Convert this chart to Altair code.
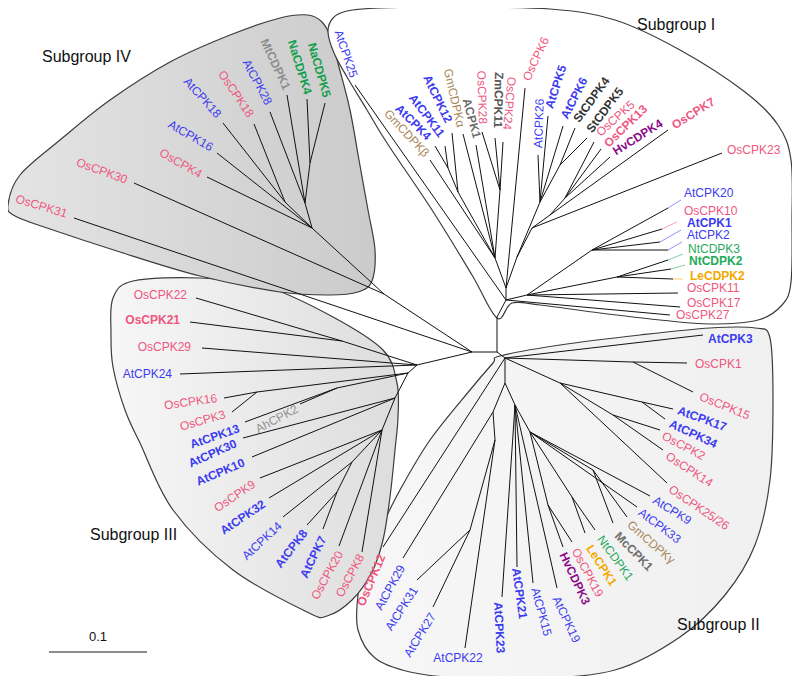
import altair as alt
import pandas as pd

# ---------------- tree data (reference pixel coordinates) ----------------
node_names = ["R0", "R1", "S0", "S1", "R2",
              "N4a", "N4b", "N4c", "N4d", "N4e",
              "N3", "N3a", "N3b", "N3c", "N3d", "N3e", "N3g", "N3h", "N3i",
              "N2a", "N2b", "N2c", "N213", "N25", "N26", "N27", "N28", "N29", "N21", "N22", "N23", "N24",
              "S1U", "GL", "Na", "Na1", "Nz", "S1Um", "Nm", "Nst", "Nj", "Nh", "Nh1", "S1R", "NR1", "NR2"]
node_x = [497, 472, 497, 506, 505,
          384, 312, 285, 305, 310,
          417, 342, 408, 257, 337, 395, 382, 352, 337,
          505, 493, 495, 470, 515, 530, 548, 572, 593, 633, 560, 642, 613,
          506, 495, 458, 448, 500, 517, 540, 560, 532, 550, 565, 527, 592, 617]
node_y = [352, 352, 317, 300, 358,
          294, 228, 202, 203, 163,
          365, 341, 373, 392, 388, 398, 430, 462, 492,
          383, 412, 440, 530, 405, 432, 505, 497, 470, 362, 383, 402, 415,
          288, 258, 192, 168, 190, 257, 202, 165, 228, 215, 198, 295, 250, 277]
node_parent = ["", "R0", "R0", "S0", "R0",
               "R1", "N4a", "N4b", "N4b", "N4d",
               "R1", "N3", "N3", "N3b", "N3b", "N3b", "N3e", "N3g", "N3h",
               "R2", "N2a", "N2b", "N2c", "N2a", "N25", "N26", "N26", "N26", "R2", "R2", "N22", "N22",
               "S1", "S1U", "GL", "Na", "GL", "S1U", "S1Um", "Nm", "S1Um", "Nj", "Nh", "S1", "S1R", "S1R"]

leaf_names = ["OsCPK31", "OsCPK30", "OsCPK4", "AtCPK16", "AtCPK18", "OsCPK18", "AtCPK28", "MtCDPK1", "NaCDPK4", "NaCDPK5",
              "AtCPK25", "GmCDPKβ", "AtCPK4", "AtCPK11", "AtCPK12", "GmCDPKα", "ACPK1", "OsCPK28", "ZmCPK11", "OsCPK24",
              "OsCPK6", "AtCPK26", "AtCPK5", "AtCPK6", "StCDPK4", "StCDPK5", "OsCPK5", "OsCPK13", "HvCDPK4", "OsCPK7", "OsCPK23",
              "AtCPK20", "OsCPK10", "AtCPK1", "AtCPK2", "NtCDPK3", "NtCDPK2", "LeCDPK2", "OsCPK11", "OsCPK17", "OsCPK27",
              "OsCPK22", "OsCPK21", "OsCPK29", "AtCPK24", "OsCPK16", "OsCPK3", "AtCPK13", "AhCPK2", "AtCPK30", "AtCPK10",
              "OsCPK9", "AtCPK32", "AtCPK14", "AtCPK8", "AtCPK7", "OsCPK20", "OsCPK8",
              "OsCPK12", "AtCPK29", "AtCPK31", "AtCPK27", "AtCPK22", "AtCPK23", "AtCPK21", "AtCPK15", "AtCPK19",
              "HvCDPK3", "OsCPK19", "LeCPK1", "NtCDPK1", "McCPK1", "GmCDPKγ", "AtCPK33", "AtCPK9",
              "OsCPK25/26", "OsCPK14", "OsCPK2", "AtCPK34", "AtCPK17", "OsCPK15", "OsCPK1", "AtCPK3"]
leaf_x = [74, 134, 207, 217, 223, 254, 270, 287, 307, 325,
          355, 430, 435, 445, 452, 463, 476, 482, 495, 503,
          525, 538, 548, 563, 575, 587, 594, 601, 610, 668, 722,
          681, 677, 681, 682, 683, 685, 683, 678, 680, 670,
          196, 190, 202, 180, 224, 232, 245, 300, 243, 252,
          260, 269, 283, 307, 323, 339, 362,
          383, 403, 417, 433, 465, 502, 517, 533, 557,
          563, 572, 585, 595, 613, 627, 637, 650,
          667, 663, 660, 665, 673, 693, 687, 703]
leaf_y = [218, 183, 177, 153, 123, 124, 112, 95, 99, 103,
          85, 160, 146, 146, 133, 134, 145, 132, 138, 142,
          88, 155, 116, 126, 128, 138, 142, 149, 157, 130, 153,
          200, 222, 230, 242, 254, 265, 279, 293, 307, 315,
          298, 322, 348, 374, 398, 412, 422, 404, 438, 457,
          478, 498, 517, 525, 529, 546, 552,
          547, 558, 580, 607, 648, 597, 567, 583, 588,
          547, 542, 533, 530, 523, 517, 507, 496,
          483, 450, 430, 419, 409, 392, 363, 335]
leaf_parent = ["R1", "N4a", "N4b", "N4b", "N4c", "N4c", "N4d", "N4d", "N4e", "N4e",
               "S1", "GL", "Na1", "Na1", "Na", "GL", "GL", "Nz", "Nz", "Nz",
               "S1U", "Nm", "Nm", "Nm", "Nst", "Nst", "Nh1", "Nh1", "Nh1", "Nh", "Nj",
               "NR1", "NR1", "NR1", "NR1", "NR2", "NR2", "NR2", "S1R", "S1R", "S1",
               "N3a", "N3a", "N3", "N3", "N3c", "N3c", "N3d", "N3d", "N3e", "N3e",
               "N3g", "N3g", "N3h", "N3i", "N3i", "N3g", "N3g",
               "R2", "N2b", "N213", "N213", "N2c", "N25", "N25", "N25", "N25",
               "N27", "N27", "N28", "N28", "N29", "N29", "N26", "N26",
               "N22", "N24", "N24", "N23", "N23", "N21", "N21", "R2"]
leaf_species = ["Os", "Os", "Os", "At", "At", "Os", "At", "Mt", "Na", "Na",
                "At", "Gm", "At", "At", "At", "Gm", "AC", "Os", "Zm", "Os",
                "Os", "At", "At", "At", "St", "St", "Os", "Os", "Hv", "Os", "Os",
                "At", "Os", "At", "At", "Nt", "Nt", "Le", "Os", "Os", "Os",
                "Os", "Os", "Os", "At", "Os", "Os", "At", "Ah", "At", "At",
                "Os", "At", "At", "At", "At", "Os", "Os",
                "Os", "At", "At", "At", "At", "At", "At", "At", "At",
                "Hv", "Os", "Le", "Nt", "Mc", "Gm", "At", "At",
                "Os", "Os", "Os", "At", "At", "Os", "Os", "At"]
leaf_bold = [0, 0, 0, 0, 0, 0, 0, 1, 1, 1,
             0, 0, 1, 1, 1, 0, 1, 0, 1, 0,
             0, 0, 1, 1, 1, 1, 0, 1, 1, 1, 0,
             0, 0, 1, 0, 0, 1, 1, 0, 0, 0,
             0, 1, 0, 0, 0, 0, 1, 0, 1, 1,
             0, 1, 0, 1, 1, 0, 0,
             1, 0, 0, 0, 0, 1, 1, 0, 0,
             1, 0, 1, 0, 1, 0, 0, 0,
             0, 0, 0, 1, 1, 0, 0, 1]
label_x = [67, 127, 201, 212, 219, 251, 269, 287, 308, 327,
           354, 427, 429, 442, 449, 461, 477, 483, 498, 507,
           526, 538, 549, 564, 576, 589, 598, 606, 614, 673, 727,
           684, 684, 687, 687, 688, 689, 690, 687, 687, 676,
           187, 180, 191, 172, 217, 225, 239, 297, 236, 244,
           254, 264, 280, 305, 323, 340, 361,
           382, 402, 415, 433, 458, 498, 516, 535, 556,
           563, 575, 589, 600, 617, 629, 640, 654,
           670, 667, 663, 670, 678, 700, 695, 708]
label_y = [214, 180, 175, 148, 116, 116, 104, 89, 94, 97,
           77, 155, 138, 136, 122, 127, 138, 124, 128, 130,
           80, 148, 108, 118, 121, 131, 134, 145, 152, 126, 150,
           193, 211, 223, 235, 249, 261, 276, 288, 303, 315,
           295, 320, 347, 374, 398, 414, 428, 408, 443, 462,
           483, 503, 524, 531, 537, 552, 555,
           555, 566, 588, 614, 658, 602, 568, 588, 597,
           553, 549, 546, 537, 534, 523, 511, 499,
           488, 455, 435, 423, 410, 396, 364, 339]
label_angle = [17, 20, 30, 30, 48, 56, 62, 65, 73, 74,
               71, 47, 45, 53, 64, 77, 75, 88, 91, 95,
               295, 272, 288, 297, 306, 307, 318, 316, 328, 328, 0,
               0, 0, 0, 0, 0, 0, 0, 0, 0, 0,
               0, 0, 0, 0, 352, 344, 341, 332, 336, 337,
               326, 326, 317, 308, 296, 299, 298,
               293, 299, 303, 302, 0, 87, 82, 75, 65,
               65, 62, 57, 54, 46, 41, 37, 32,
               34, 33, 28, 25, 20, 22, 0, 0]
label_align = (["right"] * 20 + ["left"] * 21 + ["right"] * 21 + ["center"] + ["left"] * 20)

# coloured leaf tips (where the black part of the branch stops)
tip_names = ["AtCPK20", "OsCPK10", "AtCPK1", "AtCPK2", "NtCDPK3", "NtCDPK2", "LeCDPK2"]
tip_x = [668, 662, 660, 668, 668, 671, 673]
tip_y = [208, 229, 242, 250, 260, 269, 279]

species = ["Os", "At", "Na", "Nt", "Mt", "Zm", "AC", "St", "Mc", "Ah", "Gm", "Hv", "Le"]
species_colors = ["#ef5680", "#3b3bf0", "#10a04c", "#1faa58", "#8c8c8c", "#555555", "#6c6c6c",
                  "#333333", "#6e6e6e", "#919191", "#a88658", "#8b0a8b", "#f2a900"]

# group outlines
blob4_x = [8, 20, 60, 110, 170, 230, 280, 308, 322, 331, 339, 350, 359, 368, 375, 372, 358, 330, 280, 200, 120, 50, 15]
blob4_y = [205, 175, 140, 100, 62, 35, 18, 15, 22, 38, 67, 110, 160, 210, 250, 281, 292, 295, 292, 276, 252, 229, 216]
blob1_x = [497, 472, 432, 387, 367, 347, 334, 328, 333, 347, 380, 450, 550, 615, 680, 745, 778, 791, 792, 791, 782, 758, 710, 660, 600, 540, 512]
blob1_y = [318, 275, 210, 143, 110, 77, 53, 32, 18, 11, 8, 7, 9, 20, 50, 92, 125, 160, 220, 282, 305, 320, 324, 320, 313, 305, 303]
blob3_x = [113, 133, 200, 267, 333, 383, 397, 398, 395, 390, 383, 372, 352, 327, 307, 233, 173, 140, 125, 113, 111]
blob3_y = [298, 281, 278, 287, 317, 350, 383, 417, 450, 497, 540, 572, 600, 616, 612, 570, 510, 443, 410, 367, 333]
blob2_x = [500, 560, 640, 710, 755, 770, 773, 770, 755, 725, 680, 615, 530, 460, 410, 375, 358, 358, 365, 380, 400, 430, 470, 493]
blob2_y = [356, 345, 335, 328, 328, 338, 400, 480, 545, 595, 637, 670, 679, 678, 672, 658, 630, 595, 565, 530, 490, 440, 390, 363]

group_titles = ["Subgroup IV", "Subgroup I", "Subgroup III", "Subgroup II"]
group_title_x = [42, 637, 90, 677]
group_title_y = [57, 25, 535, 625]

scale_label = "0.1"

# ---------------- build tables ----------------
pos = {n: (x, y) for n, x, y in zip(node_names, node_x, node_y)}
pos.update({n: (x, y) for n, x, y in zip(leaf_names, leaf_x, leaf_y)})
tip_start = {n: (x, y) for n, x, y in zip(tip_names, tip_x, tip_y)}

segs = []
for n, p in zip(node_names, node_parent):
    if p:
        segs.append(dict(x=pos[p][0], y=pos[p][1], x2=pos[n][0], y2=pos[n][1]))
for n, p in zip(leaf_names, leaf_parent):
    end = tip_start.get(n, pos[n])
    segs.append(dict(x=pos[p][0], y=pos[p][1], x2=end[0], y2=end[1]))
seg_df = pd.DataFrame(segs)

sp_of = dict(zip(leaf_names, leaf_species))
tip_df = pd.DataFrame([dict(x=tip_start[n][0], y=tip_start[n][1], x2=pos[n][0], y2=pos[n][1], species=sp_of[n])
                       for n in tip_names])

lab_df = pd.DataFrame(dict(name=leaf_names, x=label_x, y=label_y, angle=label_angle,
                           align=label_align, bold=leaf_bold, species=leaf_species))

X = alt.Scale(domain=[8, 792], nice=False, zero=False)
Y = alt.Scale(domain=[8, 676], nice=False, zero=False, reverse=True)
color = alt.Color("species:N", scale=alt.Scale(domain=species, range=species_colors), legend=None)


def blob(xs, ys, c0, c1):
    df = pd.DataFrame(dict(x=xs, y=ys, i=list(range(len(xs)))))
    grad = alt.Gradient(gradient="linear",
                        stops=[alt.GradientStop(color=c0, offset=0), alt.GradientStop(color=c1, offset=1)],
                        x1=0, x2=1, y1=0, y2=0)
    return alt.Chart(df).mark_line(interpolate="cardinal-closed", fill=grad, stroke="#3c3c3c",
                                   strokeWidth=1.2).encode(
        x=alt.X("x:Q", scale=X, axis=None), y=alt.Y("y:Q", scale=Y, axis=None), order="i:Q")


layers = [
    blob(blob2_x, blob2_y, "#f7f7f7", "#f0f0f0"),
    blob(blob3_x, blob3_y, "#f7f7f7", "#dddddd"),
    blob(blob4_x, blob4_y, "#e4e4e4", "#cbcbcb"),
    blob(blob1_x, blob1_y, "#ffffff", "#ffffff"),
    alt.Chart(seg_df).mark_rule(color="#111111", strokeWidth=1).encode(
        x=alt.X("x:Q", scale=X, axis=None), y=alt.Y("y:Q", scale=Y, axis=None), x2="x2:Q", y2="y2:Q"),
    alt.Chart(tip_df).mark_rule(strokeWidth=1, opacity=0.55).encode(
        x=alt.X("x:Q", scale=X, axis=None), y=alt.Y("y:Q", scale=Y, axis=None), x2="x2:Q", y2="y2:Q",
        color=color),
]

for al in ["left", "right", "center"]:
    for b in [0, 1]:
        sub = lab_df[(lab_df["align"] == al) & (lab_df["bold"] == b)]
        if len(sub) == 0:
            continue
        layers.append(alt.Chart(sub).mark_text(
            align=al, baseline="middle", font="Liberation Sans", fontSize=12,
            fontWeight="bold" if b else "normal").encode(
            x=alt.X("x:Q", scale=X, axis=None), y=alt.Y("y:Q", scale=Y, axis=None),
            text="name:N", angle=alt.Angle("angle:Q", scale=None), color=color))

title_df = pd.DataFrame(dict(t=group_titles, x=group_title_x, y=group_title_y))
layers.append(alt.Chart(title_df).mark_text(align="left", baseline="middle", font="Liberation Sans",
                                            fontSize=16, color="#111111").encode(
    x=alt.X("x:Q", scale=X, axis=None), y=alt.Y("y:Q", scale=Y, axis=None), text="t:N"))

bar_df = pd.DataFrame(dict(x=[49], x2=[147], y=[652], lx=[98], ly=[637], t=[scale_label]))
layers.append(alt.Chart(bar_df).mark_rule(color="#666666", strokeWidth=1.5).encode(
    x=alt.X("x:Q", scale=X, axis=None), x2="x2:Q", y=alt.Y("y:Q", scale=Y, axis=None)))
layers.append(alt.Chart(bar_df).mark_text(align="center", baseline="middle", font="Liberation Sans",
                                          fontSize=13, color="#111111").encode(
    x=alt.X("lx:Q", scale=X, axis=None), y=alt.Y("ly:Q", scale=Y, axis=None), text="t:N"))

chart = alt.layer(*layers).properties(width=784, height=668, padding=0, autosize="none",
                                      background="white").configure_view(stroke=None)

chart.save("out.html", embed_options={"renderer": "svg", "actions": False})
